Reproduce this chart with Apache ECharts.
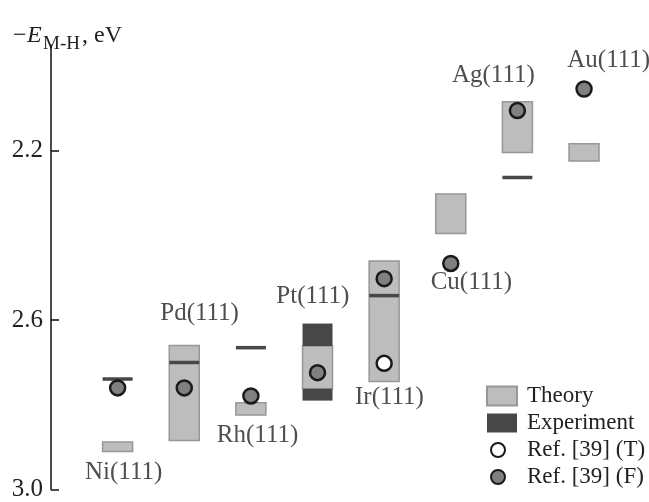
<!DOCTYPE html>
<html><head><meta charset="utf-8">
<script src="https://cdn.jsdelivr.net/npm/echarts@6/dist/echarts.min.js"></script>
<style>html,body{margin:0;padding:0;background:#fff}#c{width:649px;height:502px}</style>
</head><body><div id="c"></div>
<script>
const categories = ['Ni(111)','Pd(111)','Rh(111)','Pt(111)','Ir(111)','Cu(111)','Ag(111)','Au(111)'];
// theory ranges [low, high] in eV
const theoryLow  = [2.888, 2.660, 2.795, 2.661, 2.460, 2.302, 2.084, 2.183];
const theoryHigh = [2.910, 2.884, 2.824, 2.762, 2.745, 2.395, 2.204, 2.224];
// experiment ranges: [categoryIndex, low, high]
const experiment = [[0,2.739,2.739],[1,2.700,2.700],[2,2.665,2.665],[3,2.608,2.661],[3,2.762,2.790],[4,2.542,2.542],[6,2.263,2.263]];
// Ref. [39] values: [categoryIndex, value]
const refT = [[4,2.702]];
const refF = [[0,2.760],[1,2.760],[2,2.779],[3,2.724],[4,2.502],[5,2.466],[6,2.105],[7,2.054]];
// category label anchors (data units): x shift and y value
const labelShift = [0.09, 0.23, 0.1, -0.07, 0.08, 0.31, -0.36, 0.37];
const labelValue = [2.960, 2.585, 2.872, 2.543, 2.783, 2.512, 2.021, 1.986];
const yTicks = [2.2, 2.6, 3.0];

const FONT = 'Liberation Serif';
const theoryData = categories.map((c,i)=>[i+1, theoryLow[i], theoryHigh[i]]);
const expData = experiment.map(d=>[d[0]+1, d[1], d[2]]);

function boxRender(fill, stroke, minH){
  return function(params, api){
    const x = api.value(0);
    const p1 = api.coord([x, api.value(1)]);
    const p2 = api.coord([x, api.value(2)]);
    const w = api.size([0.45, 0])[0];
    let y0 = Math.min(p1[1], p2[1]), h = Math.abs(p2[1]-p1[1]);
    if (h < minH) { y0 = (p1[1]+p2[1])/2 - minH/2; h = minH; }
    return {type:'rect', shape:{x:p1[0]-w/2, y:y0, width:w, height:h},
      style:{fill:fill, stroke:stroke, lineWidth: stroke ? 1.5 : 0}};
  };
}

const chart = echarts.init(document.getElementById('c'), null, {renderer:'canvas'});
chart.setOption({
  animation:false,
  grid:{left:51, right:5, top:45, bottom:9, containLabel:false},
  xAxis:{type:'value', min:0, max:8.9, show:false},
  yAxis:{type:'value', inverse:true, min:1.95, max:3.0,
    axisLine:{show:true, lineStyle:{color:'#111', width:1.5}},
    axisTick:{show:true, inside:true, length:8, lineStyle:{color:'#111', width:1.5}, customValues:yTicks},
    axisLabel:{fontFamily:FONT, fontSize:25, color:'#222', margin:8, customValues:yTicks,
      formatter:v=>v.toFixed(1)},
    splitLine:{show:false}},
  legend:[
    {orient:'vertical', left:486, top:384, padding:0, itemWidth:30, itemHeight:19, itemGap:3,
     textStyle:{fontFamily:FONT, fontSize:23, color:'#222', lineHeight:24, padding:[0,0,0,5]},
     data:[{name:'Theory', icon:'rect'},{name:'Experiment', icon:'rect'}]},
    {orient:'vertical', left:490, top:438, padding:0, itemWidth:14, itemHeight:14, itemGap:3,
     textStyle:{fontFamily:FONT, fontSize:23, color:'#222', lineHeight:24, padding:[0,0,0,17]},
     data:[{name:'Ref. [39] (T)', icon:'circle'},{name:'Ref. [39] (F)', icon:'circle'}]}
  ],
  series:[
    {name:'Theory', type:'custom', renderItem:boxRender('#bdbdbd','#979797',0), data:theoryData,
     itemStyle:{color:'#bdbdbd', borderColor:'#979797', borderWidth:1.5}, z:2},
    {name:'Experiment', type:'custom', renderItem:boxRender('#474747',null,3.5), data:expData,
     itemStyle:{color:'#474747'}, z:3},
    {name:'Ref. [39] (T)', type:'scatter', data:refT.map(d=>[d[0]+1,d[1]]), symbolSize:15,
     itemStyle:{color:'#ffffff', borderColor:'#1a1a1a', borderWidth:2.5, opacity:1}, z:4},
    {name:'Ref. [39] (F)', type:'scatter', data:refF.map(d=>[d[0]+1,d[1]]), symbolSize:15,
     itemStyle:{color:'#808080', borderColor:'#1a1a1a', borderWidth:2.5, opacity:1}, z:4},
    {name:'labels', type:'scatter', symbolSize:0, silent:true,
     data:categories.map((c,i)=>({value:[i+1+labelShift[i], labelValue[i]], name:c})),
     label:{show:true, position:'inside', formatter:p=>p.name, fontFamily:FONT, fontSize:25, color:'#222'}, z:5}
  ],
  graphic:[
    {type:'text', left:13, top:24, style:{text:'−', fontFamily:FONT, fontSize:24, fill:'#222'}},
    {type:'text', left:27, top:24, style:{text:'E', fontFamily:FONT, fontSize:24, fontStyle:'italic', fill:'#222'}},
    {type:'text', left:43, top:35, style:{text:'M-H', fontFamily:FONT, fontSize:19, fill:'#222'}},
    {type:'text', left:82, top:24, style:{text:', eV', fontFamily:FONT, fontSize:24, fill:'#222'}}
  ]
});
</script></body></html>
